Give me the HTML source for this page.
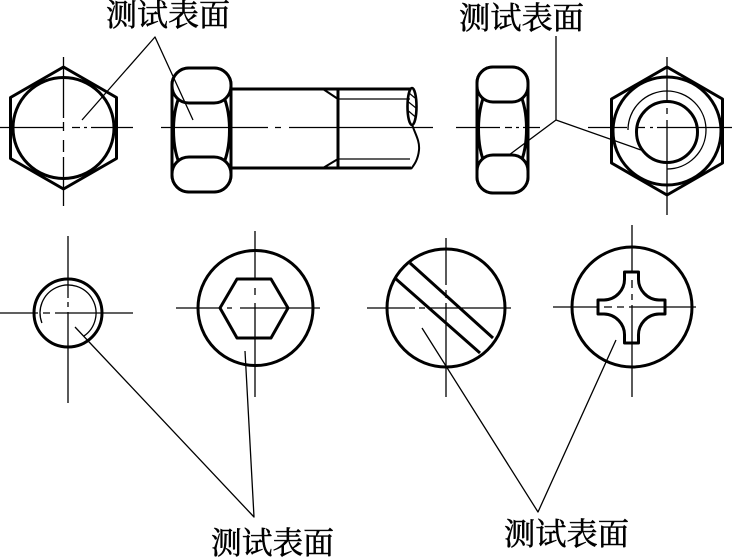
<!DOCTYPE html>
<html><head><meta charset="utf-8"><style>
html,body{margin:0;padding:0;background:#fff;}
svg{display:block;}
text{font-family:"Liberation Serif","Noto Serif CJK SC","Noto Sans CJK SC",serif;font-size:31px;fill:#000;stroke:#000;stroke-width:0.5px;}
</style></head><body>
<svg width="732" height="558" viewBox="0 0 732 558" xmlns="http://www.w3.org/2000/svg">
<g fill="none" stroke="#000" stroke-linecap="butt" stroke-linejoin="round">
<!-- ===== top-left hex nut front ===== -->
<polygon points="63.5,67 116.5,97.5 116.5,158.5 63.5,189 10.5,158.5 10.5,97.5" stroke-width="3"/>
<circle cx="63.5" cy="128" r="50.5" stroke-width="3"/>
<g stroke-width="1.3">
<path d="M63.5,57V118 M63.5,122V131 M63.5,140V152 M63.5,157V206"/>
<path d="M0,127.5H64 M72,127.5H80 M84,127.5H87 M91,127.5H133"/>
</g>
<!-- ===== bolt side ===== -->
<g stroke-width="1.3">
<path d="M161,127.5H268 M275,127.5H281 M289,127.5H433"/>
</g>
<ellipse cx="201.5" cy="130" rx="28" ry="55" stroke-width="3"/>
<rect x="172" y="68" width="59" height="124" rx="17" stroke-width="3"/>
<rect x="172" y="68" width="59" height="35" rx="17" fill="#fff" stroke-width="3"/>
<rect x="172" y="157" width="59" height="35" rx="17" fill="#fff" stroke-width="3"/>
<path d="M231,89H411 M231,168H411 M338,89V168" stroke-width="3"/>
<path d="M323,89L338,99 M323,168L338,159" stroke-width="2"/>
<path d="M338,99H410 M338,159H410" stroke-width="1.3"/>
<ellipse cx="412" cy="106.5" rx="4.5" ry="18.5" stroke-width="2.6"/>
<path d="M409,93L415,98 M408.5,102L416,108 M408.5,111L415.5,117" stroke-width="1.2"/>
<path d="M412,124C414,132 420,140 419,150C418,160 414,165 411,169" stroke-width="2"/>
<!-- ===== middle nut side ===== -->
<g stroke-width="1.3">
<path d="M456,127.5H500 M505,127.5H512 M516,127.5H519 M523,127.5H540"/>
</g>
<ellipse cx="502.5" cy="129" rx="24" ry="52" stroke-width="3"/>
<rect x="477" y="67" width="51" height="126" rx="16" stroke-width="3"/>
<rect x="477" y="67" width="51" height="35" rx="16" fill="#fff" stroke-width="3"/>
<rect x="477" y="155" width="51" height="38" rx="16" fill="#fff" stroke-width="3"/>
<!-- ===== top-right hex nut front ===== -->
<polygon points="667,67 722.5,99 722.5,163 667,195 611.5,163 611.5,99" stroke-width="3"/>
<circle cx="667" cy="131" r="54" stroke-width="3"/>
<circle cx="667" cy="132" r="30.5" stroke-width="3"/>
<path d="M628,130A39,39 0 1 1 667,169" stroke-width="1.3"/>
<g stroke-width="1.3">
<path d="M667,57V102 M667,108V114 M667,120V215"/>
<path d="M588,127.5H627 M636,127.5H645 M650,127.5H653 M657,127.5H732"/>
</g>
<!-- top leaders -->
<g stroke-width="1.3">
<path d="M82,120L155,37L193,120"/>
<path d="M556,36V120 M509,155L556,120L641,150"/>
</g>
<!-- ===== bottom row ===== -->
<!-- circle 1 -->
<circle cx="68" cy="313" r="34" stroke-width="3"/>
<path d="M41.9,323A28,28 0 1 1 83.7,336.2" stroke-width="1.3"/>
<g stroke-width="1.3">
<path d="M68,236V298 M68,302V307 M68,312V403"/>
<path d="M0,313H38 M43,313H50 M55,313H133"/>
</g>
<!-- circle 2 -->
<circle cx="255.5" cy="308" r="57.5" stroke-width="3"/>
<polygon points="220,308 237,279 271,279 288,308 271,338 237,338" stroke-width="3"/>
<g stroke-width="1.3">
<path d="M255,231V279 M255,288V295 M255,303V397"/>
<path d="M176,308H220 M227,308H232 M240,308H320"/>
</g>
<!-- circle 3 -->
<circle cx="446" cy="308" r="59" stroke-width="3"/>
<path d="M410,263L493,338 M396,279L480,353" stroke-width="3"/>
<g stroke-width="1.3">
<path d="M446,238V285 M446,290V298 M446,303V397"/>
<path d="M367,308H415 M419,308H425 M428,308H511"/>
</g>
<!-- circle 4 -->
<circle cx="632" cy="307" r="60" stroke-width="3"/>
<path d="M624.5,272H638.5V278A21,21 0 0 0 659,300H665V314H659A21,21 0 0 0 638.5,336V343H624.5V336A21,21 0 0 0 604,314H598V300H604A21,21 0 0 0 624.5,278Z" stroke-width="3"/>
<g stroke-width="1.3">
<path d="M632,225V272 M632,280V288 M632,294V300 M632,305V397"/>
<path d="M553,307H598 M604,307H612 M617,307H624 M629,307H696"/>
</g>
<!-- bottom leaders -->
<g stroke-width="1.3">
<path d="M75,327L254,517L245,351"/>
<path d="M422,328L538,512L616,340"/>
</g>
</g>
<!-- labels -->
<text x="106" y="26" textLength="124" lengthAdjust="spacingAndGlyphs">测试表面</text>
<text x="459" y="29" textLength="125" lengthAdjust="spacingAndGlyphs">测试表面</text>
<text x="211" y="554" textLength="123" lengthAdjust="spacingAndGlyphs">测试表面</text>
<text x="504" y="545" textLength="125" lengthAdjust="spacingAndGlyphs">测试表面</text>
</svg>
</body></html>
